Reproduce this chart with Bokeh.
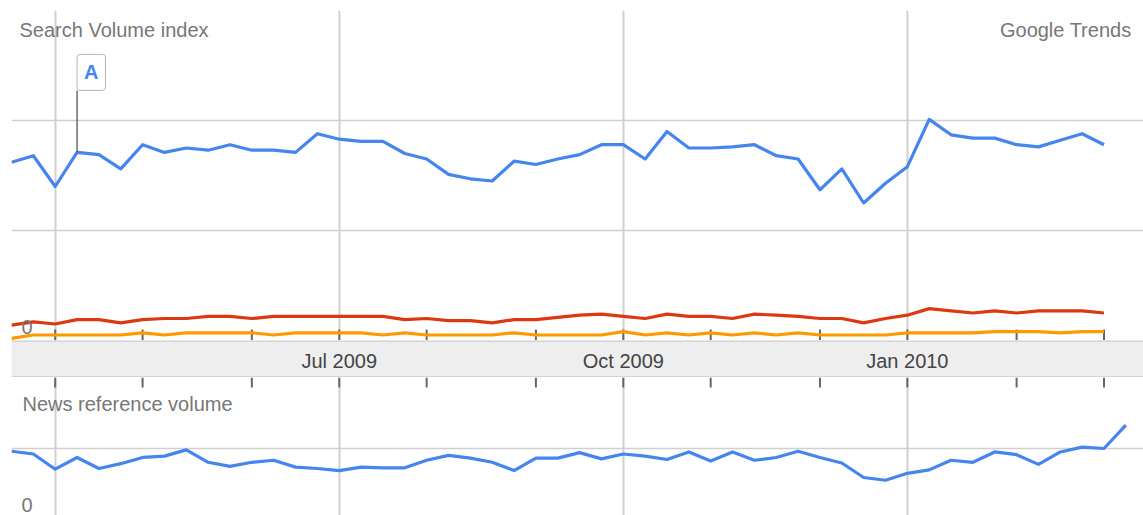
import pandas as pd
from bokeh.plotting import figure
from bokeh.layouts import column
from bokeh.models import Range1d, FixedTicker, Label, Span
from bokeh.embed import file_html
from bokeh.resources import INLINE
from bokeh.core.properties import value

# ---------------- data ----------------
weeks = pd.date_range("2009-03-22", periods=52, freq="7D")

search_blue = [1.62, 1.68, 1.40, 1.71, 1.69, 1.56, 1.78, 1.71, 1.75, 1.73,
               1.78, 1.73, 1.73, 1.71, 1.88, 1.83, 1.81, 1.81, 1.70, 1.65,
               1.51, 1.47, 1.45, 1.63, 1.60, 1.65, 1.69, 1.78, 1.78, 1.65,
               1.90, 1.75, 1.75, 1.76, 1.78, 1.68, 1.65, 1.37, 1.56, 1.25,
               1.43, 1.58, 2.01, 1.87, 1.84, 1.84, 1.78, 1.76, 1.82, 1.88,
               1.78]
search_red = [0.14, 0.17, 0.15, 0.19, 0.19, 0.16, 0.19, 0.20, 0.20, 0.22,
              0.22, 0.20, 0.22, 0.22, 0.22, 0.22, 0.22, 0.22, 0.19, 0.20,
              0.18, 0.18, 0.16, 0.19, 0.19, 0.21, 0.23, 0.24, 0.22, 0.20,
              0.24, 0.22, 0.22, 0.20, 0.24, 0.23, 0.22, 0.20, 0.20, 0.16,
              0.20, 0.23, 0.29, 0.27, 0.25, 0.27, 0.25, 0.27, 0.27, 0.27,
              0.25]
search_orange = [0.02, 0.05, 0.05, 0.05, 0.05, 0.05, 0.07, 0.05, 0.07, 0.07,
                 0.07, 0.07, 0.05, 0.07, 0.07, 0.07, 0.07, 0.05, 0.07, 0.05,
                 0.05, 0.05, 0.05, 0.07, 0.05, 0.05, 0.05, 0.05, 0.08, 0.05,
                 0.07, 0.05, 0.07, 0.05, 0.07, 0.05, 0.07, 0.05, 0.05, 0.05,
                 0.05, 0.07, 0.07, 0.07, 0.07, 0.08, 0.08, 0.08, 0.07, 0.08,
                 0.08]
news_blue = [0.96, 0.92, 0.70, 0.87, 0.71, 0.78, 0.87, 0.89, 0.98, 0.80,
             0.74, 0.80, 0.83, 0.73, 0.71, 0.68, 0.73, 0.72, 0.72, 0.83,
             0.90, 0.86, 0.80, 0.68, 0.86, 0.86, 0.94, 0.85, 0.92, 0.89,
             0.84, 0.95, 0.82, 0.95, 0.83, 0.87, 0.96, 0.87, 0.79, 0.58,
             0.54, 0.64, 0.69, 0.83, 0.80, 0.95, 0.91, 0.77, 0.95, 1.02,
             1.00, 1.34]

month_ticks = ["2009-04-05", "2009-05-03", "2009-06-07", "2009-07-05",
               "2009-08-02", "2009-09-06", "2009-10-04", "2009-11-01",
               "2009-12-06", "2010-01-03", "2010-02-07", "2010-03-07"]
quarter_ticks = ["2009-04-05", "2009-07-05", "2009-10-04", "2010-01-03"]
label_dates = ["2009-07-05", "2009-10-04", "2010-01-03"]
label_text = ["Jul 2009", "Oct 2009", "Jan 2010"]
flag_week = 3
flag_text = "A"

# ---------------- helpers ----------------
def ms(d):
    return float((pd.Timestamp(d) - pd.Timestamp("1970-01-01")) // pd.Timedelta("1ms"))

FONT_NAME = "Liberation Sans"
FONT = value(FONT_NAME)
BLUE, RED, ORANGE = "#4684ee", "#dc3912", "#ff9900"
GRID = "#d0d0d0"
TICK = "#666666"
W = 1143
LEFT = 11
PX_WEEK = 21.85
FRAME_W = W - LEFT
LW = 3.2

x0 = ms(weeks[0])
x_range = Range1d(x0, x0 + FRAME_W / PX_WEEK * 7 * 86400000)
month_ms = [ms(d) for d in month_ticks]
quarter_ms = [ms(d) for d in quarter_ticks]
label_ms = [ms(d) for d in label_dates]
wk_ms = [ms(d) for d in weeks]

def base(height, yr, top_border=0):
    p = figure(width=W, height=height, x_range=x_range, y_range=yr,
               x_axis_location=None, y_axis_location=None,
               output_backend="svg", toolbar_location=None,
               min_border_left=LEFT, min_border_right=0,
               min_border_top=top_border, min_border_bottom=0)
    p.outline_line_color = None
    p.background_fill_color = "white"
    p.border_fill_color = "white"
    return p

def label(**kw):
    opts = dict(text_font=FONT_NAME, text_font_size="20px", text_color="#777777",
                text_baseline="alphabetic", x_units="screen", y_units="screen")
    opts.update(kw)
    return Label(**opts)

def grids(p, yticks):
    p.xgrid.ticker = FixedTicker(ticks=quarter_ms)
    p.xgrid.grid_line_color = GRID
    p.xgrid.grid_line_width = 2
    p.ygrid.ticker = FixedTicker(ticks=yticks)
    p.ygrid.grid_line_color = GRID
    p.ygrid.grid_line_width = 1.5

# ---------------- top panel (y: 110 px per unit) ----------------
TOP_PX = 110
top = base(340, Range1d(0, 330 / TOP_PX), top_border=10)
grids(top, [1, 2])

n = len(search_blue)
# month ticks rising from the band into the panel
top.segment(x0=month_ms, y0=[0] * len(month_ms), x1=month_ms, y1=[11 / TOP_PX] * len(month_ms),
            line_color=TICK, line_width=2)
top.line(wk_ms[:n], search_orange, line_color=ORANGE, line_width=LW, line_join="round")
top.line(wk_ms[:n], search_red, line_color=RED, line_width=LW, line_join="round")
top.line(wk_ms[:n], search_blue, line_color=BLUE, line_width=LW, line_join="round")

fx, fy = wk_ms[flag_week], search_blue[flag_week]
top.segment(x0=[fx], y0=[fy], x1=[fx], y1=[fy + 62 / TOP_PX], line_color="#555555", line_width=1.3)
top.add_layout(label(x=fx, y=fy, x_units="data", y_units="data", y_offset=62, x_offset=0,
                     text=flag_text, text_font_style="bold", text_color=BLUE,
                     text_align="left", text_baseline="bottom",
                     background_fill_color="white", border_line_color="#b5b5b5",
                     padding=7, border_radius=3))

top.add_layout(label(x=8, y=311, text="Search Volume index"))
top.add_layout(label(x=1120, y=311, text="Google Trends", text_align="right"))
top.add_layout(label(x=10, y=14, text="0"))

# ---------------- band ----------------
band = base(37, Range1d(0, 37))
band.background_fill_color = "#eeeeee"
band.xgrid.visible = False
band.ygrid.visible = False
band.add_layout(Span(location=36.4, dimension="width", line_color="#cccccc", line_width=1.5))
band.add_layout(Span(location=0.6, dimension="width", line_color="#cccccc", line_width=1.5))
band.text(x=label_ms, y=[16.5] * len(label_ms), text=label_text, text_align="center",
          text_baseline="alphabetic", text_font=FONT, text_font_size="20px", text_color="#444444")

# ---------------- bottom panel (y: 69 px per unit) ----------------
BOT_PX = 69
BOT_H = 138
ytop = 140 / BOT_PX
bottom = base(BOT_H, Range1d(ytop - BOT_H / BOT_PX, ytop))
grids(bottom, [1])
bottom.segment(x0=month_ms, y0=[ytop] * len(month_ms), x1=month_ms,
               y1=[ytop - 10 / BOT_PX] * len(month_ms), line_color=TICK, line_width=2)
bottom.line(wk_ms, news_blue, line_color=BLUE, line_width=LW, line_join="round")
bottom.add_layout(label(x=11, y=111.5, text="News reference volume"))
bottom.add_layout(label(x=10, y=11, text="0"))

layout = column(top, band, bottom, spacing=0)
open("out.html", "w").write(file_html(layout, INLINE))
